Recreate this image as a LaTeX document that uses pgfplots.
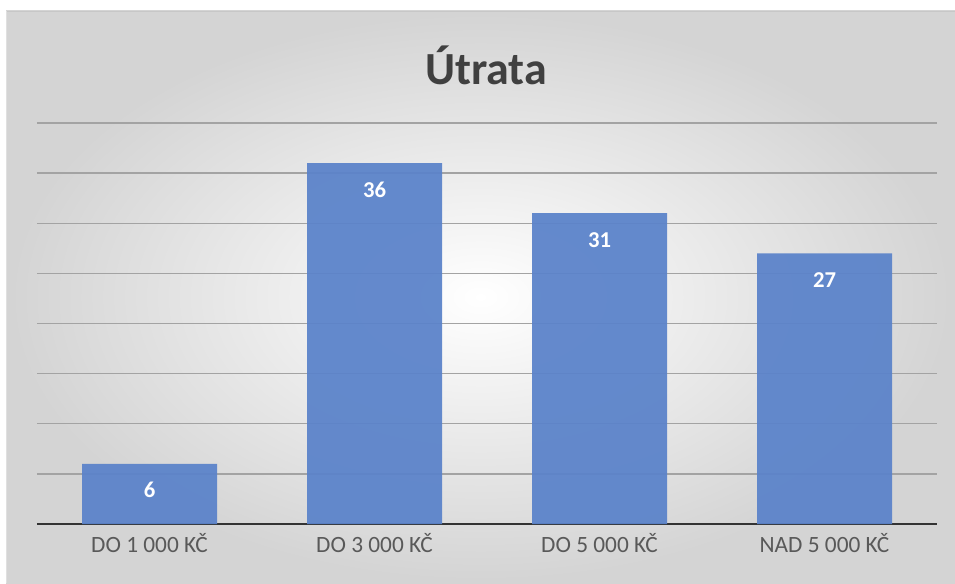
\documentclass[border=0pt]{standalone}
\usepackage{pgfplots}
\pgfplotsset{compat=1.18}
\usepackage{fontspec}
\setmainfont{Carlito}

\definecolor{barblue}{HTML}{5B83CA}
\definecolor{gridgray}{HTML}{A3A3A3}
\definecolor{labelgray}{HTML}{595959}
\definecolor{titlegray}{HTML}{404040}

\begin{document}
\begin{tikzpicture}
  % 1 px of the reference = 0.75pt
  \useasboundingbox (0,0) rectangle (716.25pt,437.25pt);
  \fill[white] (0,0) rectangle (716.25pt,437.25pt);
  \shade[inner color=white, outer color=black!17] (4.5pt,0) rectangle (716.25pt,429pt);
  \draw[black!22, line width=0.6pt] (4.5pt,429pt) -- (716.25pt,429pt);
  \draw[black!12, line width=0.6pt] (4.5pt,0) -- (4.5pt,429pt);

  \node[anchor=base, text=titlegray, font=\fontsize{34.5}{38}\selectfont\bfseries]
    at (364.5pt,373.5pt) {Útrata};

  \begin{axis}[
      at={(27.75pt,44.25pt)}, anchor=south west,
      scale only axis,
      width=675pt, height=300.75pt,
      xmin=-0.5, xmax=3.5,
      ymin=0, ymax=40,
      axis x line*=bottom, axis y line*=left,
      y axis line style={draw=none},
      x axis line style={draw=black!80, line width=2.2pt},
      ytick={5,10,...,40}, yticklabels={},
      ymajorgrids,
      major grid style={draw=gridgray, line width=1.1pt},
      major tick length=0pt,
      xtick={0,1,2,3},
      xticklabels={DO 1 000 KČ, DO 3 000 KČ, DO 5 000 KČ, NAD 5 000 KČ},
      xticklabel style={anchor=base, yshift=-21pt, text=labelgray,
        font=\fontsize{17.5}{20}\selectfont},
      /pgf/number format/assume math mode=true,
      ybar, bar width=101.25pt,
      nodes near coords,
      nodes near coords style={anchor=base, yshift=-25.5pt, text=white,
        font=\fontsize{17}{20}\selectfont\bfseries},
    ]
    \addplot[fill=barblue, draw=none, fill opacity=0.94, text opacity=1] coordinates {
      (0,6) (1,36) (2,31) (3,27)
    };
  \end{axis}
\end{tikzpicture}
\end{document}
